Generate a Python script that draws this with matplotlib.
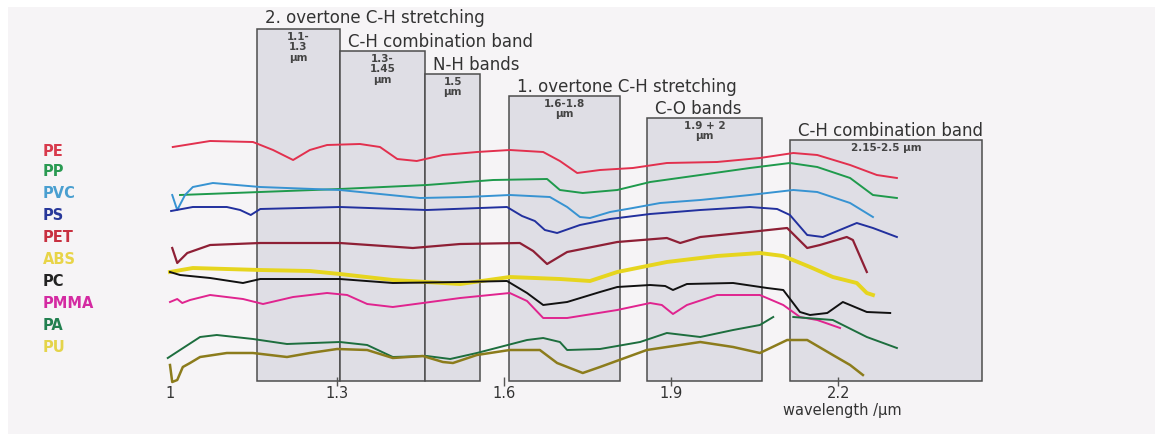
import matplotlib
matplotlib.use("Agg")
import matplotlib.pyplot as plt
from matplotlib.patches import Rectangle

# NIR absorption bands (µm) and their labels
band_lo = [1.156, 1.305, 1.458, 1.609, 1.856, 2.113]
band_hi = [1.305, 1.458, 1.557, 1.808, 2.063, 2.458]
band_names = ["2. overtone C-H stretching", "C-H combination band", "N-H bands",
              "1. overtone C-H stretching", "C-O bands", "C-H combination band"]
band_ranges = ["1.1-\n1.3\nµm", "1.3-\n1.45\nµm", "1.5\nµm", "1.6-1.8\nµm",
               "1.9 + 2\nµm", "2.15-2.5 µm"]

x_ticks = [1.0, 1.3, 1.6, 1.9, 2.2]
x_tick_labels = ["1", "1.3", "1.6", "1.9", "2.2"]

polymers = ["PE", "PP", "PVC", "PS", "PET", "ABS", "PC", "PMMA", "PA", "PU"]

# offset absorbance spectra, arbitrary units
pe_wl = [1.005, 1.072, 1.149, 1.185, 1.221, 1.251, 1.282, 1.341, 1.377, 1.408, 1.443,
         1.490, 1.551, 1.610, 1.670, 1.700, 1.731, 1.772, 1.831, 1.892, 1.982, 2.059,
         2.119, 2.162, 2.221, 2.269, 2.305]
pe_a = [2.53, 2.59, 2.58, 2.50, 2.40, 2.50, 2.55, 2.56, 2.53, 2.41, 2.39,
        2.45, 2.48, 2.50, 2.48, 2.39, 2.27, 2.30, 2.32, 2.37, 2.38, 2.42,
        2.47, 2.45, 2.35, 2.25, 2.22]

pp_wl = [1.018, 1.162, 1.305, 1.461, 1.580, 1.677, 1.700, 1.741, 1.803, 1.862, 1.952,
         2.041, 2.113, 2.162, 2.221, 2.262, 2.305]
pp_a = [2.05, 2.08, 2.11, 2.15, 2.20, 2.21, 2.10, 2.07, 2.10, 2.18, 2.25,
        2.32, 2.37, 2.33, 2.22, 2.05, 2.02]

pvc_wl = [1.004, 1.013, 1.027, 1.041, 1.077, 1.162, 1.305, 1.449, 1.533, 1.610, 1.682,
          1.713, 1.736, 1.754, 1.790, 1.831, 1.880, 1.952, 2.041, 2.119, 2.162, 2.221,
          2.262]
pvc_a = [2.05, 1.90, 2.05, 2.13, 2.17, 2.13, 2.10, 2.02, 2.03, 2.05, 2.03,
         1.93, 1.83, 1.82, 1.88, 1.92, 1.97, 2.00, 2.05, 2.10, 2.08, 1.97,
         1.83]

ps_wl = [1.002, 1.041, 1.102, 1.126, 1.145, 1.162, 1.305, 1.461, 1.605, 1.632, 1.655,
         1.673, 1.695, 1.736, 1.790, 1.862, 1.952, 2.041, 2.090, 2.113, 2.144, 2.172,
         2.233, 2.262, 2.305]
ps_a = [1.89, 1.93, 1.93, 1.90, 1.85, 1.91, 1.93, 1.90, 1.93, 1.84, 1.79,
        1.70, 1.67, 1.75, 1.81, 1.86, 1.90, 1.93, 1.91, 1.85, 1.65, 1.63,
        1.77, 1.72, 1.63]

pet_wl = [1.004, 1.013, 1.031, 1.072, 1.162, 1.305, 1.436, 1.521, 1.628, 1.652, 1.677,
          1.713, 1.803, 1.892, 1.916, 1.952, 2.041, 2.108, 2.126, 2.144, 2.167, 2.215,
          2.226, 2.251]
pet_a = [1.52, 1.37, 1.47, 1.55, 1.57, 1.57, 1.52, 1.56, 1.57, 1.49, 1.36,
         1.48, 1.58, 1.62, 1.57, 1.63, 1.68, 1.72, 1.62, 1.52, 1.55, 1.63,
         1.60, 1.28]

abs_wl = [1.000, 1.041, 1.162, 1.251, 1.305, 1.400, 1.521, 1.610, 1.700, 1.754, 1.803,
          1.892, 1.982, 2.059, 2.101, 2.149, 2.190, 2.233, 2.251, 2.262]
abs_a = [1.28, 1.32, 1.30, 1.29, 1.26, 1.20, 1.16, 1.23, 1.21, 1.19, 1.28,
         1.38, 1.44, 1.47, 1.44, 1.33, 1.23, 1.17, 1.07, 1.05]

pc_wl = [1.000, 1.018, 1.072, 1.131, 1.162, 1.305, 1.400, 1.521, 1.605, 1.641, 1.670,
         1.713, 1.772, 1.803, 1.862, 1.889, 1.903, 1.928, 2.011, 2.072, 2.101, 2.131,
         2.149, 2.180, 2.208, 2.251, 2.293]
pc_a = [1.28, 1.25, 1.22, 1.17, 1.21, 1.21, 1.17, 1.18, 1.19, 1.07, 0.95,
        0.98, 1.08, 1.13, 1.15, 1.14, 1.10, 1.16, 1.17, 1.12, 1.10, 0.88,
        0.85, 0.87, 0.98, 0.88, 0.87]

pmma_wl = [1.000, 1.013, 1.022, 1.036, 1.072, 1.131, 1.167, 1.221, 1.282, 1.318, 1.354,
           1.400, 1.454, 1.521, 1.610, 1.641, 1.670, 1.713, 1.803, 1.862, 1.883, 1.903,
           1.928, 1.982, 2.059, 2.101, 2.131, 2.162, 2.203]
pmma_a = [0.98, 1.01, 0.97, 1.00, 1.05, 1.01, 0.96, 1.03, 1.07, 1.05, 0.96,
          0.93, 0.97, 1.02, 1.07, 0.99, 0.82, 0.82, 0.90, 0.97, 0.95, 0.86,
          0.95, 1.05, 1.05, 0.95, 0.83, 0.80, 0.72]

# PA was recorded in two pieces, the gap is a NaN
pa_wl = [0.996, 1.018, 1.054, 1.084, 1.149, 1.210, 1.305, 1.354, 1.400, 1.461, 1.503,
         1.551, 1.641, 1.670, 1.700, 1.713, 1.772, 1.844, 1.892, 1.952, 2.011, 2.059,
         2.083, float("nan"), 2.119, 2.190, 2.251, 2.305]
pa_a = [0.42, 0.50, 0.63, 0.65, 0.61, 0.56, 0.58, 0.55, 0.43, 0.44, 0.41,
        0.47, 0.60, 0.62, 0.58, 0.50, 0.51, 0.58, 0.67, 0.63, 0.70, 0.75,
        0.83, float("nan"), 0.83, 0.80, 0.63, 0.52]

pu_wl = [1.000, 1.004, 1.013, 1.023, 1.036, 1.054, 1.102, 1.149, 1.210, 1.251, 1.300,
         1.354, 1.400, 1.454, 1.490, 1.508, 1.551, 1.610, 1.664, 1.695, 1.741, 1.772,
         1.856, 1.952, 2.011, 2.059, 2.108, 2.144, 2.190, 2.221, 2.244]
pu_a = [0.35, 0.18, 0.20, 0.33, 0.37, 0.43, 0.47, 0.47, 0.43, 0.47, 0.51,
        0.50, 0.42, 0.44, 0.38, 0.37, 0.45, 0.50, 0.50, 0.37, 0.27, 0.33,
        0.50, 0.58, 0.53, 0.47, 0.60, 0.60, 0.45, 0.35, 0.25]

spectra = [(pe_wl, pe_a), (pp_wl, pp_a), (pvc_wl, pvc_a), (ps_wl, ps_a), (pet_wl, pet_a),
           (abs_wl, abs_a), (pc_wl, pc_a), (pmma_wl, pmma_a), (pa_wl, pa_a), (pu_wl, pu_a)]

line_colors = ["#e2304e", "#1f9a4c", "#3793d2", "#22309e", "#8e1f35",
               "#e6d51e", "#111111", "#e0248f", "#1d6e3e", "#8c7c1c"]
label_colors = ["#d83a4c", "#2a9a52", "#4a9fd0", "#28389a", "#c83040",
                "#e8d448", "#222222", "#d42aa2", "#228050", "#e4d44a"]
line_widths = [1.4, 1.4, 1.4, 1.4, 1.6, 2.8, 1.4, 1.4, 1.4, 1.8]

# layout (data units)
box_tops = [3.71, 3.49, 3.26, 3.04, 2.82, 2.60]
box_bottom = 0.19
name_y = [3.82, 3.58, 3.35, 3.13, 2.91, 2.69]
label_y = [2.48, 2.28, 2.06, 1.85, 1.63, 1.40, 1.18, 0.96, 0.74, 0.52]

fig = plt.figure(figsize=(11.55, 4.34), dpi=100, facecolor="white")
fig.patches.append(Rectangle((8 / 1155, 0), 1, 1 - 7 / 434, transform=fig.transFigure,
                             facecolor="#f6f4f6", edgecolor="none", zorder=-10))
ax = fig.add_axes([0, 0, 1, 1])
ax.set_xlim(0.6948, 2.7684)
ax.set_ylim(-0.34, 4.0)
ax.axis("off")

txt = "#333333"
for lo, hi, top, name, rng, ny in zip(band_lo, band_hi, box_tops, band_names, band_ranges, name_y):
    ax.add_patch(Rectangle((lo, box_bottom), hi - lo, top - box_bottom,
                           facecolor="#dfdee5", edgecolor="#4d4d4d", lw=1.1, zorder=1))
    ax.text(lo + 0.014, ny, name, fontsize=12, color=txt, va="center", ha="left")
    ax.text((lo + hi) / 2, top - 0.03, rng, fontsize=7.5, fontweight="bold", color="#444444",
            va="top", ha="center", linespacing=1.05)

for (wl, a), c, w in zip(spectra, line_colors, line_widths):
    ax.plot(wl, a, color=c, lw=w, solid_joinstyle="round", zorder=3)

for name, c, y in zip(polymers, label_colors, label_y):
    ax.text(0.772, y, name, fontsize=10.5, fontweight="bold", color=c, va="center", ha="left")

ax.vlines(x_ticks[1:], 0.14, 0.23, color="#555555", lw=1.0, zorder=2)
for t, lab in zip(x_ticks, x_tick_labels):
    ax.text(t, 0.06, lab, fontsize=10.5, color=txt, ha="center", va="center")
ax.text(2.101, -0.10, "wavelength /µm", fontsize=10.5, color=txt, ha="left", va="center")

fig.savefig("out.png", dpi=100, facecolor=fig.get_facecolor())
